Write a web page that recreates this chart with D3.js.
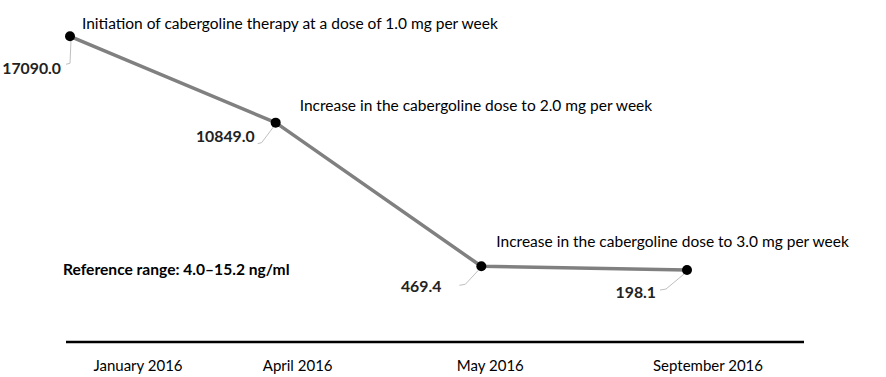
<!DOCTYPE html>
<html>
<head>
<meta charset="utf-8">
<script src="https://cdn.jsdelivr.net/npm/d3@7"></script>
<style>
  html, body { margin: 0; padding: 0; background: #fff; }
  svg { display: block; font-family: Lato, "Open Sans", sans-serif; }
</style>
</head>
<body>
<svg id="chart" width="886" height="377"></svg>
<script>
// ---- data ----
const categories = ["January 2016", "April 2016", "May 2016", "September 2016"];
const values = [17090.0, 10849.0, 469.4, 198.1];
const annotations = [
  "Initiation of cabergoline therapy at a dose of 1.0 mg per week",
  "Increase in the cabergoline dose to 2.0 mg per week",
  "Increase in the cabergoline dose to 3.0 mg per week",
  null
];
const referenceNote = "Reference range: 4.0\u201315.2 ng/ml";
const yDomain = [-5000, 20000];

// ---- layout (positions/styles, not data) ----
const labelDx = [68, 22, 9, 21];                 // x-axis label offset from point
const annoPos = [[12, -13], [24, -18], [15, -25], null]; // annotation start offset from point
const valueLabel = [ // right end of label offset, center offset, leader path offsets
  { dx: -9,  dy: 31, leader: [[1, 4], [0, 27], [-4, 28]] },
  { dx: -21, dy: 13, leader: [[-2, 4], [-14, 20], [-18, 21]] },
  { dx: -40, dy: 19, leader: [[-3, 4], [-16, 18], [-22, 19]] },
  { dx: -31, dy: 21, leader: [[-3, 4], [-21, 19], [-27, 20]] }
];

const svg = d3.select("#chart");
const x = d3.scalePoint().domain(categories).range([70, 687]);
const y = d3.scaleLinear().domain(yDomain).range([342, -4]);

const pts = categories.map((c, i) => ({ c, v: values[i], x: x(c), y: y(values[i]), i }));

// axis line
svg.append("line")
  .attr("x1", 66).attr("x2", 804)
  .attr("y1", y(yDomain[0])).attr("y2", y(yDomain[0]))
  .attr("stroke", "#000").attr("stroke-width", 2.6);

// axis labels
svg.append("g").selectAll("text").data(pts).join("text")
  .attr("x", d => d.x + labelDx[d.i])
  .attr("y", 365)
  .attr("text-anchor", "middle")
  .attr("dominant-baseline", "central")
  .attr("font-size", 15)
  .attr("fill", "#000")
  .text(d => d.c);

// leader lines
svg.append("g").selectAll("path").data(pts).join("path")
  .attr("d", d => d3.line()(valueLabel[d.i].leader.map(p => [d.x + p[0], d.y + p[1]])))
  .attr("fill", "none").attr("stroke", "#bfbfbf").attr("stroke-width", 1);

// series line
svg.append("path")
  .datum(pts)
  .attr("d", d3.line().x(d => d.x).y(d => d.y))
  .attr("fill", "none").attr("stroke", "#808080").attr("stroke-width", 3.5)
  .attr("stroke-linejoin", "round");

// markers
svg.append("g").selectAll("circle").data(pts).join("circle")
  .attr("cx", d => d.x).attr("cy", d => d.y).attr("r", 5)
  .attr("fill", "#000");

// value labels
svg.append("g").selectAll("text").data(pts).join("text")
  .attr("x", d => d.x + valueLabel[d.i].dx)
  .attr("y", d => d.y + valueLabel[d.i].dy)
  .attr("text-anchor", "end")
  .attr("dominant-baseline", "central")
  .attr("font-size", 15.8).attr("font-weight", "bold")
  .attr("fill", "#222")
  .text(d => d.v.toFixed(1));

// annotations
svg.append("g").selectAll("text").data(pts.filter(d => annotations[d.i])).join("text")
  .attr("x", d => d.x + annoPos[d.i][0])
  .attr("y", d => d.y + annoPos[d.i][1])
  .attr("dominant-baseline", "central")
  .attr("font-size", 15.5)
  .attr("fill", "#000")
  .text(d => annotations[d.i]);

// reference note
svg.append("text")
  .attr("x", 63).attr("y", 269)
  .attr("dominant-baseline", "central")
  .attr("font-size", 15.6).attr("font-weight", "bold")
  .attr("fill", "#000")
  .text(referenceNote);
</script>
</body>
</html>
